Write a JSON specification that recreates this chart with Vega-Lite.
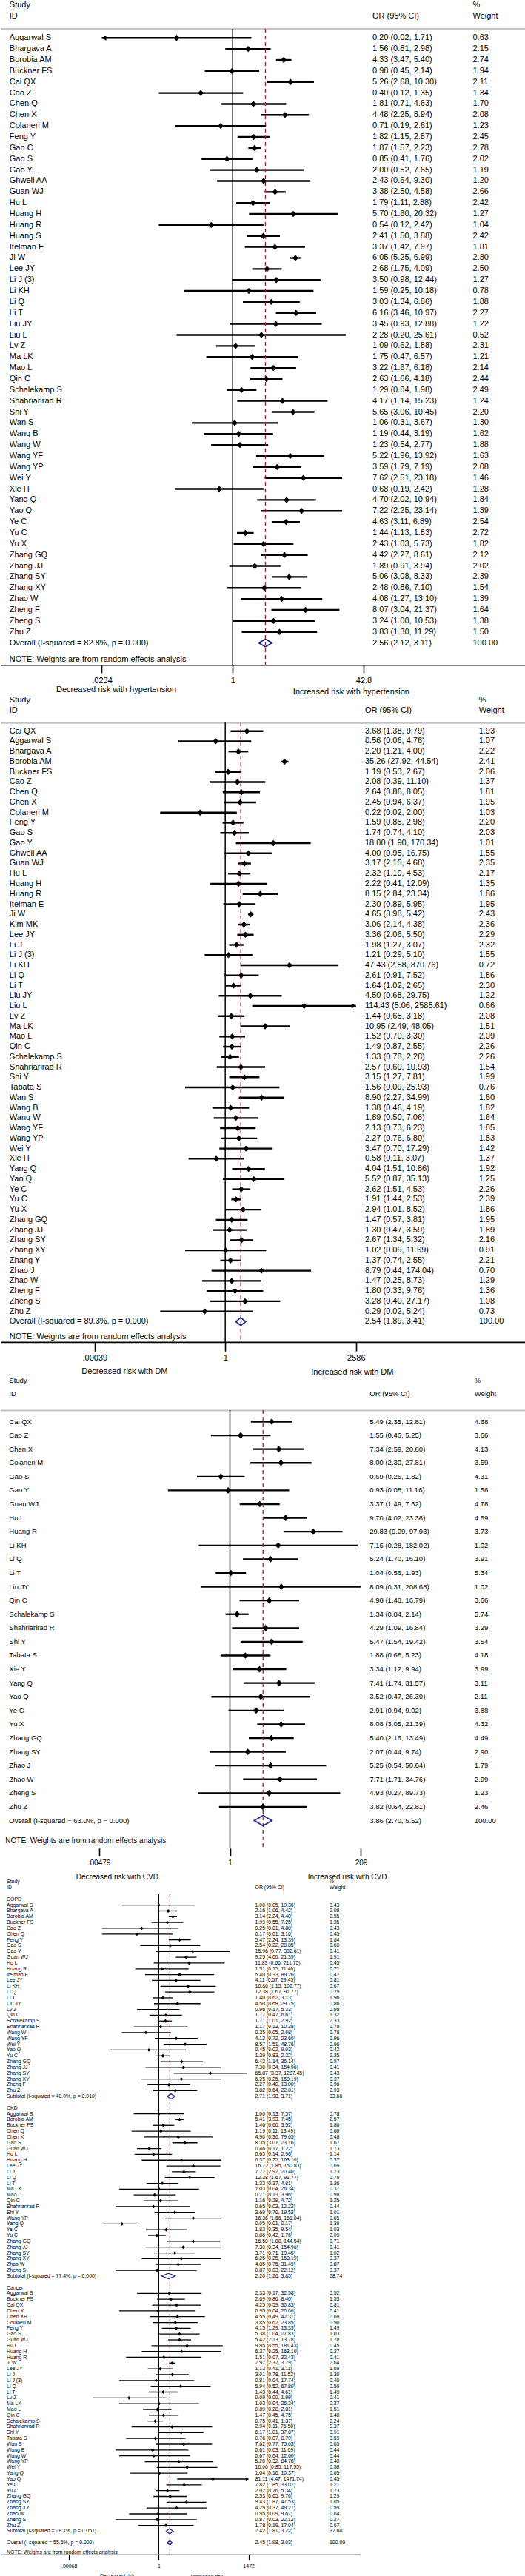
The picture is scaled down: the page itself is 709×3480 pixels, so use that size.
{
"$schema":"https://vega.github.io/schema/vega-lite/v6.json",
"padding":0,
"background":"white",
"spacing":0,
"bounds":"flush",
"config":{"view":{"stroke":null},"font":"Liberation Sans","text":{"font":"Liberation Sans","color":"black"},"axis":{"labelFont":"Liberation Sans"}},
"datasets":{
"p1":[
{"i":0,"study":"Aggarwal S","or":0.20,"lo":0.02,"hi":1.71,"w":0.63,"kind":"s"},
{"i":1,"study":"Bhargava A","or":1.56,"lo":0.81,"hi":2.98,"w":2.15,"kind":"s"},
{"i":2,"study":"Borobia AM","or":4.33,"lo":3.47,"hi":5.40,"w":2.74,"kind":"s"},
{"i":3,"study":"Buckner FS","or":0.98,"lo":0.45,"hi":2.14,"w":1.94,"kind":"s"},
{"i":4,"study":"Cai QX","or":5.26,"lo":2.68,"hi":10.30,"w":2.11,"kind":"s"},
{"i":5,"study":"Cao Z","or":0.40,"lo":0.12,"hi":1.35,"w":1.34,"kind":"s"},
{"i":6,"study":"Chen Q","or":1.81,"lo":0.71,"hi":4.63,"w":1.70,"kind":"s"},
{"i":7,"study":"Chen X","or":4.48,"lo":2.25,"hi":8.94,"w":2.08,"kind":"s"},
{"i":8,"study":"Colaneri M","or":0.71,"lo":0.19,"hi":2.61,"w":1.23,"kind":"s"},
{"i":9,"study":"Feng Y","or":1.82,"lo":1.15,"hi":2.87,"w":2.45,"kind":"s"},
{"i":10,"study":"Gao C","or":1.87,"lo":1.57,"hi":2.23,"w":2.78,"kind":"s"},
{"i":11,"study":"Gao S","or":0.85,"lo":0.41,"hi":1.76,"w":2.02,"kind":"s"},
{"i":12,"study":"Gao Y","or":2.00,"lo":0.52,"hi":7.65,"w":1.19,"kind":"s"},
{"i":13,"study":"Ghweil AA","or":2.43,"lo":0.64,"hi":9.30,"w":1.20,"kind":"s"},
{"i":14,"study":"Guan WJ","or":3.38,"lo":2.50,"hi":4.58,"w":2.66,"kind":"s"},
{"i":15,"study":"Hu L","or":1.79,"lo":1.11,"hi":2.88,"w":2.42,"kind":"s"},
{"i":16,"study":"Huang H","or":5.70,"lo":1.60,"hi":20.32,"w":1.27,"kind":"s"},
{"i":17,"study":"Huang R","or":0.54,"lo":0.12,"hi":2.42,"w":1.04,"kind":"s"},
{"i":18,"study":"Huang S","or":2.41,"lo":1.50,"hi":3.88,"w":2.42,"kind":"s"},
{"i":19,"study":"Itelman E","or":3.37,"lo":1.42,"hi":7.97,"w":1.81,"kind":"s"},
{"i":20,"study":"Ji W","or":6.05,"lo":5.25,"hi":6.99,"w":2.80,"kind":"s"},
{"i":21,"study":"Lee JY","or":2.68,"lo":1.75,"hi":4.09,"w":2.50,"kind":"s"},
{"i":22,"study":"Li J  (3)","or":3.50,"lo":0.98,"hi":12.44,"w":1.27,"kind":"s"},
{"i":23,"study":"Li KH","or":1.59,"lo":0.25,"hi":10.18,"w":0.78,"kind":"s"},
{"i":24,"study":"Li Q","or":3.03,"lo":1.34,"hi":6.86,"w":1.88,"kind":"s"},
{"i":25,"study":"Li T","or":6.16,"lo":3.46,"hi":10.97,"w":2.27,"kind":"s"},
{"i":26,"study":"Liu JY","or":3.45,"lo":0.93,"hi":12.88,"w":1.22,"kind":"s"},
{"i":27,"study":"Liu L","or":2.28,"lo":0.20,"hi":25.61,"w":0.52,"kind":"s"},
{"i":28,"study":"Lv Z","or":1.09,"lo":0.62,"hi":1.88,"w":2.31,"kind":"s"},
{"i":29,"study":"Ma LK","or":1.75,"lo":0.47,"hi":6.57,"w":1.21,"kind":"s"},
{"i":30,"study":"Mao L","or":3.22,"lo":1.67,"hi":6.18,"w":2.14,"kind":"s"},
{"i":31,"study":"Qin C","or":2.63,"lo":1.66,"hi":4.18,"w":2.44,"kind":"s"},
{"i":32,"study":"Schalekamp S","or":1.29,"lo":0.84,"hi":1.98,"w":2.49,"kind":"s"},
{"i":33,"study":"Shahriarirad R","or":4.17,"lo":1.14,"hi":15.23,"w":1.24,"kind":"s"},
{"i":34,"study":"Shi Y","or":5.65,"lo":3.06,"hi":10.45,"w":2.20,"kind":"s"},
{"i":35,"study":"Wan S","or":1.06,"lo":0.31,"hi":3.67,"w":1.30,"kind":"s"},
{"i":36,"study":"Wang B","or":1.19,"lo":0.44,"hi":3.19,"w":1.62,"kind":"s"},
{"i":37,"study":"Wang W","or":1.23,"lo":0.54,"hi":2.77,"w":1.88,"kind":"s"},
{"i":38,"study":"Wang YF","or":5.22,"lo":1.96,"hi":13.92,"w":1.63,"kind":"s"},
{"i":39,"study":"Wang YP","or":3.59,"lo":1.79,"hi":7.19,"w":2.08,"kind":"s"},
{"i":40,"study":"Wei Y","or":7.62,"lo":2.51,"hi":23.18,"w":1.46,"kind":"s"},
{"i":41,"study":"Xie H","or":0.68,"lo":0.19,"hi":2.42,"w":1.28,"kind":"s"},
{"i":42,"study":"Yang Q","or":4.70,"lo":2.02,"hi":10.94,"w":1.84,"kind":"s"},
{"i":43,"study":"Yao Q","or":7.22,"lo":2.25,"hi":23.14,"w":1.39,"kind":"s"},
{"i":44,"study":"Ye C","or":4.63,"lo":3.11,"hi":6.89,"w":2.54,"kind":"s"},
{"i":45,"study":"Yu C","or":1.44,"lo":1.13,"hi":1.83,"w":2.72,"kind":"s"},
{"i":46,"study":"Yu X","or":2.43,"lo":1.03,"hi":5.73,"w":1.82,"kind":"s"},
{"i":47,"study":"Zhang GQ","or":4.42,"lo":2.27,"hi":8.61,"w":2.12,"kind":"s"},
{"i":48,"study":"Zhang JJ","or":1.89,"lo":0.91,"hi":3.94,"w":2.02,"kind":"s"},
{"i":49,"study":"Zhang SY","or":5.06,"lo":3.08,"hi":8.33,"w":2.39,"kind":"s"},
{"i":50,"study":"Zhang XY","or":2.48,"lo":0.86,"hi":7.10,"w":1.54,"kind":"s"},
{"i":51,"study":"Zhao W","or":4.08,"lo":1.27,"hi":13.10,"w":1.39,"kind":"s"},
{"i":52,"study":"Zheng F","or":8.07,"lo":3.04,"hi":21.37,"w":1.64,"kind":"s"},
{"i":53,"study":"Zheng S","or":3.24,"lo":1.00,"hi":10.53,"w":1.38,"kind":"s"},
{"i":54,"study":"Zhu Z","or":3.83,"lo":1.30,"hi":11.29,"w":1.50,"kind":"s"},
{"i":55,"study":"Overall  (I-squared = 82.8%, p = 0.000)","or":2.56,"lo":2.12,"hi":3.11,"w":100,"kind":"overall"}
],
"p2":[
{"i":0,"study":"Cai QX","or":3.68,"lo":1.38,"hi":9.79,"w":1.93,"kind":"s"},
{"i":1,"study":"Aggarwal S","or":0.56,"lo":0.06,"hi":4.76,"w":1.07,"kind":"s"},
{"i":2,"study":"Bhargava A","or":2.20,"lo":1.21,"hi":4.00,"w":2.22,"kind":"s"},
{"i":3,"study":"Borobia AM","or":35.26,"lo":27.92,"hi":44.54,"w":2.41,"kind":"s"},
{"i":4,"study":"Buckner FS","or":1.19,"lo":0.53,"hi":2.67,"w":2.06,"kind":"s"},
{"i":5,"study":"Cao Z","or":2.08,"lo":0.39,"hi":11.10,"w":1.37,"kind":"s"},
{"i":6,"study":"Chen Q","or":2.64,"lo":0.86,"hi":8.05,"w":1.81,"kind":"s"},
{"i":7,"study":"Chen X","or":2.45,"lo":0.94,"hi":6.37,"w":1.95,"kind":"s"},
{"i":8,"study":"Colaneri M","or":0.22,"lo":0.02,"hi":2.00,"w":1.03,"kind":"s"},
{"i":9,"study":"Feng Y","or":1.59,"lo":0.85,"hi":2.98,"w":2.20,"kind":"s"},
{"i":10,"study":"Gao S","or":1.74,"lo":0.74,"hi":4.10,"w":2.03,"kind":"s"},
{"i":11,"study":"Gao Y","or":18.00,"lo":1.90,"hi":170.34,"w":1.01,"kind":"s"},
{"i":12,"study":"Ghweil AA","or":4.00,"lo":0.95,"hi":16.75,"w":1.55,"kind":"s"},
{"i":13,"study":"Guan WJ","or":3.17,"lo":2.15,"hi":4.68,"w":2.35,"kind":"s"},
{"i":14,"study":"Hu L","or":2.32,"lo":1.19,"hi":4.53,"w":2.17,"kind":"s"},
{"i":15,"study":"Huang H","or":2.22,"lo":0.41,"hi":12.09,"w":1.35,"kind":"s"},
{"i":16,"study":"Huang R","or":8.15,"lo":2.84,"hi":23.34,"w":1.86,"kind":"s"},
{"i":17,"study":"Itelman E","or":2.30,"lo":0.89,"hi":5.95,"w":1.95,"kind":"s"},
{"i":18,"study":"Ji W","or":4.65,"lo":3.98,"hi":5.42,"w":2.43,"kind":"s"},
{"i":19,"study":"Kim MK","or":3.06,"lo":2.14,"hi":4.38,"w":2.36,"kind":"s"},
{"i":20,"study":"Lee JY","or":3.36,"lo":2.06,"hi":5.50,"w":2.29,"kind":"s"},
{"i":21,"study":"Li J","or":1.98,"lo":1.27,"hi":3.07,"w":2.32,"kind":"s"},
{"i":22,"study":"Li J  (3)","or":1.21,"lo":0.29,"hi":5.10,"w":1.55,"kind":"s"},
{"i":23,"study":"Li KH","or":47.43,"lo":2.58,"hi":870.76,"w":0.72,"kind":"s"},
{"i":24,"study":"Li Q","or":2.61,"lo":0.91,"hi":7.52,"w":1.86,"kind":"s"},
{"i":25,"study":"Li T","or":1.64,"lo":1.02,"hi":2.65,"w":2.30,"kind":"s"},
{"i":26,"study":"Liu JY","or":4.50,"lo":0.68,"hi":29.75,"w":1.22,"kind":"s"},
{"i":27,"study":"Liu L","or":114.43,"lo":5.06,"hi":2585.61,"w":0.66,"kind":"s"},
{"i":28,"study":"Lv Z","or":1.44,"lo":0.65,"hi":3.18,"w":2.08,"kind":"s"},
{"i":29,"study":"Ma LK","or":10.95,"lo":2.49,"hi":48.05,"w":1.51,"kind":"s"},
{"i":30,"study":"Mao L","or":1.52,"lo":0.70,"hi":3.30,"w":2.09,"kind":"s"},
{"i":31,"study":"Qin C","or":1.49,"lo":0.87,"hi":2.55,"w":2.26,"kind":"s"},
{"i":32,"study":"Schalekamp S","or":1.33,"lo":0.78,"hi":2.28,"w":2.26,"kind":"s"},
{"i":33,"study":"Shahriarirad R","or":2.57,"lo":0.60,"hi":10.93,"w":1.54,"kind":"s"},
{"i":34,"study":"Shi Y","or":3.15,"lo":1.27,"hi":7.81,"w":1.99,"kind":"s"},
{"i":35,"study":"Tabata S","or":1.56,"lo":0.09,"hi":25.93,"w":0.76,"kind":"s"},
{"i":36,"study":"Wan S","or":8.90,"lo":2.27,"hi":34.99,"w":1.60,"kind":"s"},
{"i":37,"study":"Wang B","or":1.38,"lo":0.46,"hi":4.19,"w":1.82,"kind":"s"},
{"i":38,"study":"Wang W","or":1.89,"lo":0.50,"hi":7.06,"w":1.64,"kind":"s"},
{"i":39,"study":"Wang YF","or":2.13,"lo":0.73,"hi":6.23,"w":1.85,"kind":"s"},
{"i":40,"study":"Wang YP","or":2.27,"lo":0.76,"hi":6.80,"w":1.83,"kind":"s"},
{"i":41,"study":"Wei Y","or":3.47,"lo":0.70,"hi":17.29,"w":1.42,"kind":"s"},
{"i":42,"study":"Xie H","or":0.58,"lo":0.11,"hi":3.07,"w":1.37,"kind":"s"},
{"i":43,"study":"Yang Q","or":4.04,"lo":1.51,"hi":10.86,"w":1.92,"kind":"s"},
{"i":44,"study":"Yao Q","or":5.52,"lo":0.87,"hi":35.13,"w":1.25,"kind":"s"},
{"i":45,"study":"Ye C","or":2.62,"lo":1.51,"hi":4.53,"w":2.26,"kind":"s"},
{"i":46,"study":"Yu C","or":1.91,"lo":1.44,"hi":2.53,"w":2.39,"kind":"s"},
{"i":47,"study":"Yu X","or":2.94,"lo":1.01,"hi":8.52,"w":1.86,"kind":"s"},
{"i":48,"study":"Zhang GQ","or":1.47,"lo":0.57,"hi":3.81,"w":1.95,"kind":"s"},
{"i":49,"study":"Zhang JJ","or":1.30,"lo":0.47,"hi":3.59,"w":1.89,"kind":"s"},
{"i":50,"study":"Zhang SY","or":2.67,"lo":1.34,"hi":5.32,"w":2.16,"kind":"s"},
{"i":51,"study":"Zhang XY","or":1.02,"lo":0.09,"hi":11.69,"w":0.91,"kind":"s"},
{"i":52,"study":"Zhang Y","or":1.37,"lo":0.74,"hi":2.55,"w":2.21,"kind":"s"},
{"i":53,"study":"Zhao J","or":8.79,"lo":0.44,"hi":174.04,"w":0.70,"kind":"s"},
{"i":54,"study":"Zhao W","or":1.47,"lo":0.25,"hi":8.73,"w":1.29,"kind":"s"},
{"i":55,"study":"Zheng F","or":1.80,"lo":0.33,"hi":9.76,"w":1.36,"kind":"s"},
{"i":56,"study":"Zheng S","or":3.28,"lo":0.40,"hi":27.17,"w":1.08,"kind":"s"},
{"i":57,"study":"Zhu Z","or":0.29,"lo":0.02,"hi":5.24,"w":0.73,"kind":"s"},
{"i":58,"study":"Overall  (I-squared = 89.3%, p = 0.000)","or":2.54,"lo":1.89,"hi":3.41,"w":100,"kind":"overall"}
],
"p3":[
{"i":0,"study":"Cai QX","or":5.49,"lo":2.35,"hi":12.81,"w":4.68,"kind":"s"},
{"i":1,"study":"Cao Z","or":1.55,"lo":0.46,"hi":5.25,"w":3.66,"kind":"s"},
{"i":2,"study":"Chen X","or":7.34,"lo":2.59,"hi":20.80,"w":4.13,"kind":"s"},
{"i":3,"study":"Colaneri M","or":8.00,"lo":2.30,"hi":27.81,"w":3.59,"kind":"s"},
{"i":4,"study":"Gao S","or":0.69,"lo":0.26,"hi":1.82,"w":4.31,"kind":"s"},
{"i":5,"study":"Gao Y","or":0.93,"lo":0.08,"hi":11.16,"w":1.56,"kind":"s"},
{"i":6,"study":"Guan WJ","or":3.37,"lo":1.49,"hi":7.62,"w":4.78,"kind":"s"},
{"i":7,"study":"Hu L","or":9.70,"lo":4.02,"hi":23.38,"w":4.59,"kind":"s"},
{"i":8,"study":"Huang R","or":29.83,"lo":9.09,"hi":97.93,"w":3.73,"kind":"s"},
{"i":9,"study":"Li KH","or":7.16,"lo":0.28,"hi":182.02,"w":1.02,"kind":"s"},
{"i":10,"study":"Li Q","or":5.24,"lo":1.70,"hi":16.10,"w":3.91,"kind":"s"},
{"i":11,"study":"Li T","or":1.04,"lo":0.56,"hi":1.93,"w":5.34,"kind":"s"},
{"i":12,"study":"Liu JY","or":8.09,"lo":0.31,"hi":208.68,"w":1.02,"kind":"s"},
{"i":13,"study":"Qin C","or":4.98,"lo":1.48,"hi":16.79,"w":3.66,"kind":"s"},
{"i":14,"study":"Schalekamp S","or":1.34,"lo":0.84,"hi":2.14,"w":5.74,"kind":"s"},
{"i":15,"study":"Shahriarirad R","or":4.29,"lo":1.09,"hi":16.84,"w":3.29,"kind":"s"},
{"i":16,"study":"Shi Y","or":5.47,"lo":1.54,"hi":19.42,"w":3.54,"kind":"s"},
{"i":17,"study":"Tabata S","or":1.88,"lo":0.68,"hi":5.23,"w":4.18,"kind":"s"},
{"i":18,"study":"Xie Y","or":3.34,"lo":1.12,"hi":9.94,"w":3.99,"kind":"s"},
{"i":19,"study":"Yang Q","or":7.41,"lo":1.74,"hi":31.57,"w":3.11,"kind":"s"},
{"i":20,"study":"Yao Q","or":3.52,"lo":0.47,"hi":26.39,"w":2.11,"kind":"s"},
{"i":21,"study":"Ye C","or":2.91,"lo":0.94,"hi":9.02,"w":3.88,"kind":"s"},
{"i":22,"study":"Yu X","or":8.08,"lo":3.05,"hi":21.39,"w":4.32,"kind":"s"},
{"i":23,"study":"Zhang GQ","or":5.40,"lo":2.16,"hi":13.49,"w":4.49,"kind":"s"},
{"i":24,"study":"Zhang SY","or":2.07,"lo":0.44,"hi":9.74,"w":2.90,"kind":"s"},
{"i":25,"study":"Zhao J","or":5.25,"lo":0.54,"hi":50.64,"w":1.79,"kind":"s"},
{"i":26,"study":"Zhao W","or":7.71,"lo":1.71,"hi":34.76,"w":2.99,"kind":"s"},
{"i":27,"study":"Zheng S","or":4.93,"lo":0.27,"hi":89.73,"w":1.23,"kind":"s"},
{"i":28,"study":"Zhu Z","or":3.82,"lo":0.64,"hi":22.81,"w":2.46,"kind":"s"},
{"i":29,"study":"Overall  (I-squared = 63.0%, p = 0.000)","or":3.86,"lo":2.70,"hi":5.52,"w":100,"kind":"overall"}
],
"p4":[
{"i":0,"study":"COPD","kind":"group"},
{"i":1,"study":"Aggarwal S","or":1.00,"lo":0.05,"hi":19.36,"w":0.43,"kind":"s"},
{"i":2,"study":"Bhargava A","or":2.16,"lo":1.06,"hi":4.42,"w":2.08,"kind":"s"},
{"i":3,"study":"Borobia AM","or":3.14,"lo":2.24,"hi":4.40,"w":2.55,"kind":"s"},
{"i":4,"study":"Buckner FS","or":1.99,"lo":0.55,"hi":7.25,"w":1.35,"kind":"s"},
{"i":5,"study":"Cao Z","or":0.25,"lo":0.01,"hi":4.80,"w":0.43,"kind":"s"},
{"i":6,"study":"Chen Q","or":0.17,"lo":0.01,"hi":3.10,"w":0.45,"kind":"s"},
{"i":7,"study":"Feng Y","or":5.47,"lo":2.24,"hi":13.39,"w":1.84,"kind":"s"},
{"i":8,"study":"Gao S","or":2.54,"lo":0.22,"hi":28.85,"w":0.60,"kind":"s"},
{"i":9,"study":"Gao Y","or":15.96,"lo":0.77,"hi":332.61,"w":0.41,"kind":"s"},
{"i":10,"study":"Guan WJ","or":9.25,"lo":4.00,"hi":21.39,"w":1.91,"kind":"s"},
{"i":11,"study":"Hu L","or":11.83,"lo":0.66,"hi":211.75,"w":0.45,"kind":"s"},
{"i":12,"study":"Huang R","or":1.31,"lo":0.15,"hi":11.40,"w":0.71,"kind":"s"},
{"i":13,"study":"Itelman E","or":5.40,"lo":0.33,"hi":89.20,"w":0.47,"kind":"s"},
{"i":14,"study":"Lee JY","or":4.11,"lo":0.57,"hi":29.45,"w":0.81,"kind":"s"},
{"i":15,"study":"Li KH","or":10.86,"lo":1.15,"hi":102.77,"w":0.67,"kind":"s"},
{"i":16,"study":"Li Q","or":12.38,"lo":1.67,"hi":91.77,"w":0.79,"kind":"s"},
{"i":17,"study":"Li T","or":1.40,"lo":0.62,"hi":3.13,"w":1.96,"kind":"s"},
{"i":18,"study":"Liu JY","or":4.50,"lo":0.68,"hi":29.75,"w":0.86,"kind":"s"},
{"i":19,"study":"Lv Z","or":0.96,"lo":0.17,"hi":5.33,"w":0.98,"kind":"s"},
{"i":20,"study":"Qin C","or":1.77,"lo":0.47,"hi":6.61,"w":1.32,"kind":"s"},
{"i":21,"study":"Schalekamp S","or":1.71,"lo":1.01,"hi":2.92,"w":2.33,"kind":"s"},
{"i":22,"study":"Shahriarirad R","or":1.17,"lo":0.13,"hi":10.38,"w":0.70,"kind":"s"},
{"i":23,"study":"Wang W","or":0.35,"lo":0.05,"hi":2.68,"w":0.78,"kind":"s"},
{"i":24,"study":"Wang YF","or":4.12,"lo":0.72,"hi":23.60,"w":0.96,"kind":"s"},
{"i":25,"study":"Wei Y","or":8.57,"lo":1.51,"hi":48.76,"w":0.96,"kind":"s"},
{"i":26,"study":"Yao Q","or":0.45,"lo":0.02,"hi":9.03,"w":0.42,"kind":"s"},
{"i":27,"study":"Yu C","or":1.39,"lo":0.83,"hi":2.32,"w":2.35,"kind":"s"},
{"i":28,"study":"Zhang GQ","or":6.43,"lo":1.14,"hi":36.14,"w":0.97,"kind":"s"},
{"i":29,"study":"Zhang JJ","or":7.30,"lo":0.34,"hi":154.96,"w":0.41,"kind":"s"},
{"i":30,"study":"Zhang SY","or":65.87,"lo":3.37,"hi":1287.45,"w":0.43,"kind":"s"},
{"i":31,"study":"Zhang XY","or":6.25,"lo":0.25,"hi":158.19,"w":0.37,"kind":"s"},
{"i":32,"study":"Zheng F","or":2.27,"lo":0.40,"hi":13.00,"w":0.96,"kind":"s"},
{"i":33,"study":"Zhu Z","or":3.82,"lo":0.64,"hi":22.81,"w":0.93,"kind":"s"},
{"i":34,"study":"Subtotal  (I-squared = 40.0%, p = 0.010)","or":2.71,"lo":1.98,"hi":3.71,"w":33.66,"kind":"sub"},
{"i":36,"study":"CKD","kind":"group"},
{"i":37,"study":"Aggarwal S","or":1.00,"lo":0.13,"hi":7.57,"w":0.78,"kind":"s"},
{"i":38,"study":"Borobia AM","or":5.41,"lo":3.93,"hi":7.45,"w":2.57,"kind":"s"},
{"i":39,"study":"Buckner FS","or":1.46,"lo":0.60,"hi":3.52,"w":1.86,"kind":"s"},
{"i":40,"study":"Chen Q","or":1.19,"lo":0.11,"hi":13.49,"w":0.60,"kind":"s"},
{"i":41,"study":"Chen X","or":4.90,"lo":0.30,"hi":79.65,"w":0.48,"kind":"s"},
{"i":42,"study":"Gao S","or":8.35,"lo":3.01,"hi":23.16,"w":1.67,"kind":"s"},
{"i":43,"study":"Guan WJ","or":0.46,"lo":0.17,"hi":1.22,"w":1.73,"kind":"s"},
{"i":44,"study":"Hu L","or":0.65,"lo":0.14,"hi":2.96,"w":1.14,"kind":"s"},
{"i":45,"study":"Huang H","or":6.37,"lo":0.25,"hi":163.10,"w":0.37,"kind":"s"},
{"i":46,"study":"Lee JY","or":16.72,"lo":1.85,"hi":150.83,"w":0.69,"kind":"s"},
{"i":47,"study":"Li J","or":7.72,"lo":2.92,"hi":20.40,"w":1.73,"kind":"s"},
{"i":48,"study":"Li Q","or":12.38,"lo":1.67,"hi":91.77,"w":0.79,"kind":"s"},
{"i":49,"study":"Li T","or":1.33,"lo":0.37,"hi":4.81,"w":1.36,"kind":"s"},
{"i":50,"study":"Ma LK","or":1.03,"lo":0.04,"hi":26.34,"w":0.37,"kind":"s"},
{"i":51,"study":"Mao L","or":0.71,"lo":0.13,"hi":3.96,"w":0.98,"kind":"s"},
{"i":52,"study":"Qin C","or":1.16,"lo":0.29,"hi":4.72,"w":1.25,"kind":"s"},
{"i":53,"study":"Shahriarirad R","or":0.65,"lo":0.03,"hi":12.22,"w":0.44,"kind":"s"},
{"i":54,"study":"Shi Y","or":3.69,"lo":0.70,"hi":19.52,"w":1.01,"kind":"s"},
{"i":55,"study":"Wang YP","or":16.36,"lo":1.66,"hi":161.04,"w":0.65,"kind":"s"},
{"i":56,"study":"Yang Q","or":0.05,"lo":0.01,"hi":0.17,"w":1.39,"kind":"s"},
{"i":57,"study":"Ye C","or":1.83,"lo":0.35,"hi":9.54,"w":1.03,"kind":"s"},
{"i":58,"study":"Yu C","or":0.86,"lo":0.42,"hi":1.76,"w":2.09,"kind":"s"},
{"i":59,"study":"Zhang GQ","or":16.50,"lo":1.88,"hi":144.54,"w":0.71,"kind":"s"},
{"i":60,"study":"Zhang JJ","or":7.30,"lo":0.34,"hi":154.96,"w":0.41,"kind":"s"},
{"i":61,"study":"Zhang SY","or":3.71,"lo":0.71,"hi":19.45,"w":1.02,"kind":"s"},
{"i":62,"study":"Zhang XY","or":6.25,"lo":0.25,"hi":158.19,"w":0.37,"kind":"s"},
{"i":63,"study":"Zhao W","or":4.85,"lo":0.75,"hi":31.49,"w":0.87,"kind":"s"},
{"i":64,"study":"Zheng S","or":0.87,"lo":0.03,"hi":22.12,"w":0.37,"kind":"s"},
{"i":65,"study":"Subtotal  (I-squared = 77.4%, p = 0.000)","or":2.20,"lo":1.26,"hi":3.85,"w":28.74,"kind":"sub"},
{"i":67,"study":"Cancer","kind":"group"},
{"i":68,"study":"Aggarwal S","or":2.33,"lo":0.17,"hi":32.58,"w":0.52,"kind":"s"},
{"i":69,"study":"Buckner FS","or":2.69,"lo":0.86,"hi":8.40,"w":1.53,"kind":"s"},
{"i":70,"study":"Cai QX","or":4.25,"lo":0.59,"hi":30.83,"w":0.81,"kind":"s"},
{"i":71,"study":"Chen X","or":0.95,"lo":0.04,"hi":20.06,"w":0.41,"kind":"s"},
{"i":72,"study":"Chen XH","or":4.55,"lo":0.49,"hi":42.31,"w":0.68,"kind":"s"},
{"i":73,"study":"Colaneri M","or":3.85,"lo":0.62,"hi":23.85,"w":0.90,"kind":"s"},
{"i":74,"study":"Feng Y","or":4.15,"lo":1.29,"hi":13.33,"w":1.49,"kind":"s"},
{"i":75,"study":"Gao S","or":5.38,"lo":1.04,"hi":27.83,"w":1.03,"kind":"s"},
{"i":76,"study":"Guan WJ","or":5.42,"lo":2.13,"hi":13.78,"w":1.78,"kind":"s"},
{"i":77,"study":"Hu L","or":9.95,"lo":0.55,"hi":181.43,"w":0.45,"kind":"s"},
{"i":78,"study":"Huang H","or":6.37,"lo":0.25,"hi":163.10,"w":0.37,"kind":"s"},
{"i":79,"study":"Huang R","or":1.51,"lo":0.07,"hi":32.43,"w":0.41,"kind":"s"},
{"i":80,"study":"Ji W","or":2.97,"lo":2.32,"hi":3.79,"w":2.64,"kind":"s"},
{"i":81,"study":"Lee JY","or":1.13,"lo":0.41,"hi":3.11,"w":1.69,"kind":"s"},
{"i":82,"study":"Li J","or":3.01,"lo":0.78,"hi":11.52,"w":1.30,"kind":"s"},
{"i":83,"study":"Li J   (3)","or":0.81,"lo":0.04,"hi":17.74,"w":0.40,"kind":"s"},
{"i":84,"study":"Li Q","or":5.94,"lo":0.52,"hi":67.80,"w":0.59,"kind":"s"},
{"i":85,"study":"Li T","or":1.43,"lo":0.44,"hi":4.61,"w":1.49,"kind":"s"},
{"i":86,"study":"Lv Z","or":0.09,"lo":0.0047,"hi":1.99,"w":0.41,"kind":"s"},
{"i":87,"study":"Ma LK","or":1.03,"lo":0.04,"hi":26.34,"w":0.37,"kind":"s"},
{"i":88,"study":"Mao L","or":0.89,"lo":0.28,"hi":2.81,"w":1.51,"kind":"s"},
{"i":89,"study":"Qin C","or":1.47,"lo":0.45,"hi":4.75,"w":1.48,"kind":"s"},
{"i":90,"study":"Schalekamp S","or":0.75,"lo":0.41,"hi":1.37,"w":2.24,"kind":"s"},
{"i":91,"study":"Shahriarirad R","or":2.94,"lo":0.11,"hi":76.50,"w":0.37,"kind":"s"},
{"i":92,"study":"Shi Y","or":6.17,"lo":1.01,"hi":37.87,"w":0.91,"kind":"s"},
{"i":93,"study":"Tabata S","or":0.76,"lo":0.07,"hi":8.79,"w":0.59,"kind":"s"},
{"i":94,"study":"Wan S","or":7.62,"lo":0.77,"hi":75.63,"w":0.65,"kind":"s"},
{"i":95,"study":"Wang B","or":0.61,"lo":0.03,"hi":11.09,"w":0.44,"kind":"s"},
{"i":96,"study":"Wang W","or":0.67,"lo":0.04,"hi":12.60,"w":0.44,"kind":"s"},
{"i":97,"study":"Wang YP","or":5.20,"lo":0.32,"hi":84.78,"w":0.48,"kind":"s"},
{"i":98,"study":"Wei Y","or":10.00,"lo":0.85,"hi":117.55,"w":0.58,"kind":"s"},
{"i":99,"study":"Yang Q","or":1.04,"lo":0.10,"hi":10.37,"w":0.65,"kind":"s"},
{"i":100,"study":"Yao Q","or":81.11,"lo":4.47,"hi":1471.74,"w":0.45,"kind":"s"},
{"i":101,"study":"Ye C","or":7.82,"lo":1.85,"hi":33.07,"w":1.21,"kind":"s"},
{"i":102,"study":"Yu C","or":2.02,"lo":0.76,"hi":5.34,"w":1.73,"kind":"s"},
{"i":103,"study":"Zhang GQ","or":2.53,"lo":0.65,"hi":9.76,"w":1.29,"kind":"s"},
{"i":104,"study":"Zhang SY","or":9.43,"lo":1.87,"hi":47.53,"w":1.05,"kind":"s"},
{"i":105,"study":"Zhang XY","or":4.29,"lo":0.37,"hi":49.27,"w":0.59,"kind":"s"},
{"i":106,"study":"Zhao W","or":0.95,"lo":0.09,"hi":9.67,"w":0.64,"kind":"s"},
{"i":107,"study":"Zheng S","or":0.87,"lo":0.03,"hi":22.12,"w":0.37,"kind":"s"},
{"i":108,"study":"Zhu Z","or":1.78,"lo":0.19,"hi":17.04,"w":0.67,"kind":"s"},
{"i":109,"study":"Subtotal  (I-squared = 28.1%, p = 0.051)","or":2.42,"lo":1.81,"hi":3.22,"w":37.60,"kind":"sub"},
{"i":111,"study":"Overall  (I-squared = 55.6%, p = 0.000)","or":2.45,"lo":1.98,"hi":3.03,"w":100,"kind":"overall"}
]
},
"vconcat":[
{
"width":709,"height":896.3,
"data":{"name":"p1"},
"encoding":{"y":{"field":"i","type":"quantitative","scale":{"domain":[-3.318,57],"nice":false,"zero":false,"reverse":true},"axis":null}},
"layer":[
{"transform":[{"filter":"datum.kind=='overall'"}],"mark":{"type":"rule","color":"#c4c4c4","strokeWidth":2},"encoding":{"y":{"datum":-0.83,"axis":null}}},
{"transform":[{"filter":"datum.kind=='s'"},{"calculate":"max(datum.lo,0.0234)","as":"lo_c"}],"mark":{"type":"rule","color":"black","strokeWidth":2.4},"encoding":{"x":{"field":"lo_c","type":"quantitative","scale":{"type":"log","domain":[0.0012872,4494.4],"nice":false},"axis":{"values":[0.0234,1,42.8],"labelExpr":"datum.value < 1 ? slice(toString(datum.value), 1) : toString(datum.value)","title":null,"grid":false,"domain":true,"domainColor":"black","domainWidth":1.6,"ticks":true,"tickColor":"black","tickWidth":1.6,"tickSize":10.5,"labelFontSize":11,"labelColor":"black","labelPadding":4.5,"labelFlush":false,"labelOverlap":false}},"x2":{"field":"hi"}}},
{"transform":[{"filter":"datum.kind=='overall'"}],"mark":{"type":"rule","color":"black","strokeWidth":1.5},"encoding":{"x":{"datum":1},"y":{"datum":-0.83,"axis":null},"y2":{"datum":57}}},
{"transform":[{"filter":"datum.kind=='overall'"}],"mark":{"type":"rule","color":"#b2182b","strokeWidth":1.3,"strokeDash":[5,4]},"encoding":{"x":{"field":"or","type":"quantitative"},"y":{"datum":-0.83,"axis":null},"y2":{"datum":57}}},
{"transform":[{"filter":"datum.lo < 0.0234"}],"mark":{"type":"point","shape":"triangle-left","filled":true,"color":"black","opacity":1,"size":50,"xOffset":3},"encoding":{"x":{"datum":0.0234}}},
{"transform":[{"filter":"datum.kind=='s'"}],"mark":{"type":"point","shape":"M0,-1.08L1,0L0,1.08L-1,0Z","filled":true,"color":"black","opacity":1,"size":60},"encoding":{"x":{"field":"or","type":"quantitative"}}},
{"transform":[{"filter":"datum.kind=='overall'"}],"mark":{"type":"point","shape":"M-1,0L0,-0.57L1,0L0,0.57Z","filled":false,"color":"#1f2d86","strokeWidth":1.8,"opacity":1,"size":324},"encoding":{"x":{"field":"or","type":"quantitative"}}},
{"mark":{"type":"text","align":"left","baseline":"middle","fontSize":11},"encoding":{"x":{"datum":0.0016538},"text":{"field":"study"}}},
{"transform":[{"filter":"datum.kind!='group'"},{"calculate":"format(datum.or,'.2f')+' ('+format(datum.lo,'.2f')+', '+format(datum.hi,'.2f')+')'","as":"ci"}],"mark":{"type":"text","align":"left","baseline":"middle","fontSize":11},"encoding":{"x":{"datum":55.25},"text":{"field":"ci"}}},
{"transform":[{"filter":"datum.kind!='group'"},{"calculate":"format(datum.w,'.2f')","as":"wt"}],"mark":{"type":"text","align":"left","baseline":"middle","fontSize":11},"encoding":{"x":{"datum":983.6},"text":{"field":"wt"}}},
{"transform":[{"filter":"datum.kind=='overall'"}],"mark":{"type":"text","text":"Study","align":"left","baseline":"middle","fontSize":11},"encoding":{"x":{"datum":0.0016538},"y":{"datum":-3,"axis":null}}},
{"transform":[{"filter":"datum.kind=='overall'"}],"mark":{"type":"text","text":"ID","align":"left","baseline":"middle","fontSize":11},"encoding":{"x":{"datum":0.0016538},"y":{"datum":-2,"axis":null}}},
{"transform":[{"filter":"datum.kind=='overall'"}],"mark":{"type":"text","text":"OR (95% CI)","align":"left","baseline":"middle","fontSize":11},"encoding":{"x":{"datum":55.25},"y":{"datum":-2,"axis":null}}},
{"transform":[{"filter":"datum.kind=='overall'"}],"mark":{"type":"text","text":"%","align":"left","baseline":"middle","fontSize":11},"encoding":{"x":{"datum":983.6},"y":{"datum":-3,"axis":null}}},
{"transform":[{"filter":"datum.kind=='overall'"}],"mark":{"type":"text","text":"Weight","align":"left","baseline":"middle","fontSize":11},"encoding":{"x":{"datum":983.6},"y":{"datum":-2,"axis":null}}},
{"transform":[{"filter":"datum.kind=='overall'"}],"mark":{"type":"text","text":"NOTE: Weights are from random effects analysis","align":"left","baseline":"middle","fontSize":11},"encoding":{"x":{"datum":0.0016538},"y":{"datum":56.5,"axis":null}}},
{"transform":[{"filter":"datum.kind=='overall'"}],"mark":{"type":"text","text":"Decreased risk with hypertension","align":"center","baseline":"middle","fontSize":11},"encoding":{"x":{"datum":0.03544},"y":{"datum":59.27,"axis":null}}},
{"transform":[{"filter":"datum.kind=='overall'"}],"mark":{"type":"text","text":"Increased risk with hypertension","align":"center","baseline":"middle","fontSize":11},"encoding":{"x":{"datum":30.09},"y":{"datum":59.45,"axis":null}}}
]
},
{
"width":709,"height":913.9,
"data":{"name":"p2"},
"encoding":{"y":{"field":"i","type":"quantitative","scale":{"domain":[-6.4495,60],"nice":false,"zero":false,"reverse":true},"axis":null}},
"layer":[
{"transform":[{"filter":"datum.kind=='overall'"}],"mark":{"type":"rule","color":"#c4c4c4","strokeWidth":2},"encoding":{"y":{"datum":-0.8,"axis":null}}},
{"transform":[{"filter":"datum.kind=='s'"}],"mark":{"type":"rule","color":"black","strokeWidth":2.4},"encoding":{"x":{"field":"lo","type":"quantitative","scale":{"type":"log","domain":[1.3799e-6,6.970e7],"nice":false},"axis":{"values":[0.00039,1,2586],"labelExpr":"datum.value < 1 ? slice(toString(datum.value), 1) : toString(datum.value)","title":null,"grid":false,"domain":true,"domainColor":"black","domainWidth":1.6,"ticks":true,"tickColor":"black","tickWidth":1.6,"tickSize":12.3,"labelFontSize":11,"labelColor":"black","labelPadding":3.7,"labelFlush":false,"labelOverlap":false}},"x2":{"field":"hi"}}},
{"transform":[{"filter":"datum.kind=='overall'"}],"mark":{"type":"rule","color":"black","strokeWidth":1.5},"encoding":{"x":{"datum":1},"y":{"datum":-0.83,"axis":null},"y2":{"datum":60}}},
{"transform":[{"filter":"datum.kind=='overall'"}],"mark":{"type":"rule","color":"#b2182b","strokeWidth":1.3,"strokeDash":[5,4]},"encoding":{"x":{"field":"or","type":"quantitative"},"y":{"datum":-0.83,"axis":null},"y2":{"datum":60}}},
{"transform":[{"filter":"datum.hi > 2585"}],"mark":{"type":"point","shape":"triangle-right","filled":true,"color":"black","opacity":1,"size":50,"xOffset":-3},"encoding":{"x":{"field":"hi","type":"quantitative"}}},
{"transform":[{"filter":"datum.kind=='s'"}],"mark":{"type":"point","shape":"M0,-1.08L1,0L0,1.08L-1,0Z","filled":true,"color":"black","opacity":1,"size":60},"encoding":{"x":{"field":"or","type":"quantitative"}}},
{"transform":[{"filter":"datum.kind=='overall'"}],"mark":{"type":"point","shape":"M-1,0L0,-0.8L1,0L0,0.8Z","filled":false,"color":"#1f2d86","strokeWidth":1.8,"opacity":1,"size":177},"encoding":{"x":{"field":"or","type":"quantitative"}}},
{"mark":{"type":"text","align":"left","baseline":"middle","fontSize":11},"encoding":{"x":{"datum":2.334e-6},"text":{"field":"study"}}},
{"transform":[{"filter":"datum.kind!='group'"},{"calculate":"format(datum.or,'.2f')+' ('+format(datum.lo,'.2f')+', '+format(datum.hi,'.2f')+')'","as":"ci"}],"mark":{"type":"text","align":"left","baseline":"middle","fontSize":11},"encoding":{"x":{"datum":4457},"text":{"field":"ci"}}},
{"transform":[{"filter":"datum.kind!='group'"},{"calculate":"format(datum.w,'.2f')","as":"wt"}],"mark":{"type":"text","align":"left","baseline":"middle","fontSize":11},"encoding":{"x":{"datum":4.166e6},"text":{"field":"wt"}}},
{"transform":[{"filter":"datum.kind=='overall'"}],"mark":{"type":"text","text":"Study","align":"left","baseline":"middle","fontSize":11},"encoding":{"x":{"datum":2.334e-6},"y":{"datum":-3,"axis":null}}},
{"transform":[{"filter":"datum.kind=='overall'"}],"mark":{"type":"text","text":"ID","align":"left","baseline":"middle","fontSize":11},"encoding":{"x":{"datum":2.334e-6},"y":{"datum":-2,"axis":null}}},
{"transform":[{"filter":"datum.kind=='overall'"}],"mark":{"type":"text","text":"OR (95% CI)","align":"left","baseline":"middle","fontSize":11},"encoding":{"x":{"datum":4457},"y":{"datum":-2,"axis":null}}},
{"transform":[{"filter":"datum.kind=='overall'"}],"mark":{"type":"text","text":"%","align":"left","baseline":"middle","fontSize":11},"encoding":{"x":{"datum":4.166e6},"y":{"datum":-3,"axis":null}}},
{"transform":[{"filter":"datum.kind=='overall'"}],"mark":{"type":"text","text":"Weight","align":"left","baseline":"middle","fontSize":11},"encoding":{"x":{"datum":4.166e6},"y":{"datum":-2,"axis":null}}},
{"transform":[{"filter":"datum.kind=='overall'"}],"mark":{"type":"text","text":"NOTE: Weights are from random effects analysis","align":"left","baseline":"middle","fontSize":11},"encoding":{"x":{"datum":2.334e-6},"y":{"datum":59.5,"axis":null}}},
{"transform":[{"filter":"datum.kind=='overall'"}],"mark":{"type":"text","text":"Decreased risk with DM","align":"center","baseline":"middle","fontSize":11},"encoding":{"x":{"datum":0.002363},"y":{"datum":62.95,"axis":null}}},
{"transform":[{"filter":"datum.kind=='overall'"}],"mark":{"type":"text","text":"Increased risk with DM","align":"center","baseline":"middle","fontSize":11},"encoding":{"x":{"datum":2076},"y":{"datum":63.02,"axis":null}}}
]
},
{
"width":709,"height":683.7,
"data":{"name":"p3"},
"encoding":{"y":{"field":"i","type":"quantitative","scale":{"domain":[-5.784,31],"nice":false,"zero":false,"reverse":true},"axis":null}},
"layer":[
{"transform":[{"filter":"datum.kind=='overall'"}],"mark":{"type":"rule","color":"#c4c4c4","strokeWidth":2},"encoding":{"y":{"datum":-0.81,"axis":null}}},
{"transform":[{"filter":"datum.kind=='s'"}],"mark":{"type":"rule","color":"black","strokeWidth":2.3},"encoding":{"x":{"field":"lo","type":"quantitative","scale":{"type":"log","domain":[8.766e-5,172577],"nice":false},"axis":{"values":[0.00479,1,209],"labelExpr":"datum.value < 1 ? slice(toString(datum.value), 1) : toString(datum.value)","title":null,"grid":false,"domain":false,"ticks":true,"tickColor":"black","tickWidth":1.6,"tickSize":10.5,"labelFontSize":10,"labelColor":"black","labelPadding":4,"labelFlush":false,"labelOverlap":false}},"x2":{"field":"hi"}}},
{"transform":[{"filter":"datum.kind=='overall'"}],"mark":{"type":"rule","color":"black","strokeWidth":1.5},"encoding":{"x":{"datum":1},"y":{"datum":-0.83,"axis":null},"y2":{"datum":31}}},
{"transform":[{"filter":"datum.kind=='overall'"}],"mark":{"type":"rule","color":"#b2182b","strokeWidth":1.3,"strokeDash":[5,4]},"encoding":{"x":{"field":"or","type":"quantitative"},"y":{"datum":-0.83,"axis":null},"y2":{"datum":31}}},
{"transform":[{"filter":"datum.kind=='s'"}],"mark":{"type":"point","shape":"M0,-1.08L1,0L0,1.08L-1,0Z","filled":true,"color":"black","opacity":1,"size":64},"encoding":{"x":{"field":"or","type":"quantitative"}}},
{"transform":[{"filter":"datum.kind=='overall'"}],"mark":{"type":"point","shape":"M-1,0L0,-0.59L1,0L0,0.59Z","filled":false,"color":"#1f2d86","strokeWidth":1.8,"opacity":1,"size":562},"encoding":{"x":{"field":"or","type":"quantitative"}}},
{"mark":{"type":"text","align":"left","baseline":"middle","fontSize":9.5},"encoding":{"x":{"datum":1.234e-4},"text":{"field":"study"}}},
{"transform":[{"filter":"datum.kind!='group'"},{"calculate":"format(datum.or,'.2f')+' ('+format(datum.lo,'.2f')+', '+format(datum.hi,'.2f')+')'","as":"ci"}],"mark":{"type":"text","align":"left","baseline":"middle","fontSize":9.5},"encoding":{"x":{"datum":298.5},"text":{"field":"ci"}}},
{"transform":[{"filter":"datum.kind!='group'"},{"calculate":"format(datum.w,'.2f')","as":"wt"}],"mark":{"type":"text","align":"left","baseline":"middle","fontSize":9.5},"encoding":{"x":{"datum":21372},"text":{"field":"wt"}}},
{"transform":[{"filter":"datum.kind=='overall'"}],"mark":{"type":"text","text":"Study","align":"left","baseline":"middle","fontSize":9.5},"encoding":{"x":{"datum":1.234e-4},"y":{"datum":-3,"axis":null}}},
{"transform":[{"filter":"datum.kind=='overall'"}],"mark":{"type":"text","text":"ID","align":"left","baseline":"middle","fontSize":9.5},"encoding":{"x":{"datum":1.234e-4},"y":{"datum":-2,"axis":null}}},
{"transform":[{"filter":"datum.kind=='overall'"}],"mark":{"type":"text","text":"OR (95% CI)","align":"left","baseline":"middle","fontSize":9.5},"encoding":{"x":{"datum":298.5},"y":{"datum":-2,"axis":null}}},
{"transform":[{"filter":"datum.kind=='overall'"}],"mark":{"type":"text","text":"%","align":"left","baseline":"middle","fontSize":9.5},"encoding":{"x":{"datum":21372},"y":{"datum":-3,"axis":null}}},
{"transform":[{"filter":"datum.kind=='overall'"}],"mark":{"type":"text","text":"Weight","align":"left","baseline":"middle","fontSize":9.5},"encoding":{"x":{"datum":21372},"y":{"datum":-2,"axis":null}}},
{"transform":[{"filter":"datum.kind=='overall'"}],"mark":{"type":"text","text":"NOTE: Weights are from random effects analysis","align":"left","baseline":"middle","fontSize":10},"encoding":{"x":{"datum":1.0603e-4},"y":{"datum":30.5,"axis":null}}},
{"transform":[{"filter":"datum.kind=='overall'"}],"mark":{"type":"text","text":"Decreased risk with CVD","align":"center","baseline":"middle","fontSize":10},"encoding":{"x":{"datum":0.01014},"y":{"datum":33.09,"axis":null}}},
{"transform":[{"filter":"datum.kind=='overall'"}],"mark":{"type":"text","text":"Increased risk with CVD","align":"center","baseline":"middle","fontSize":10},"encoding":{"x":{"datum":119.6},"y":{"datum":33.09,"axis":null}}}
]
},
{
"width":486,"height":953.8,
"data":{"name":"p4"},
"encoding":{"y":{"field":"i","type":"quantitative","scale":{"domain":[-8.7845,113],"nice":false,"zero":false,"reverse":true},"axis":null}},
"layer":[
{"transform":[{"filter":"datum.kind=='s'"}],"mark":{"type":"rule","color":"black","strokeWidth":1.3},"encoding":{"x":{"field":"lo","type":"quantitative","scale":{"type":"log","domain":[2.6529e-6,1.3282e7],"nice":false},"axis":{"values":[0.00068,1,1472],"labelExpr":"datum.value < 1 ? slice(toString(datum.value), 1) : toString(datum.value)","title":null,"grid":false,"domain":true,"domainColor":"black","domainWidth":1.2,"ticks":true,"tickColor":"black","tickWidth":1.2,"tickSize":7.5,"labelFontSize":7,"labelColor":"black","labelPadding":4,"labelFlush":false,"labelOverlap":false}},"x2":{"field":"hi"}}},
{"transform":[{"filter":"datum.kind=='overall'"}],"mark":{"type":"rule","color":"black","strokeWidth":1.2},"encoding":{"x":{"datum":1},"y":{"datum":-0.86,"axis":null},"y2":{"datum":113}}},
{"transform":[{"filter":"datum.kind=='overall'"}],"mark":{"type":"rule","color":"#b2182b","strokeWidth":1,"strokeDash":[4,3]},"encoding":{"x":{"field":"or","type":"quantitative"},"y":{"datum":-0.86,"axis":null},"y2":{"datum":113}}},
{"transform":[{"filter":"datum.hi > 1471"}],"mark":{"type":"point","shape":"triangle-right","filled":true,"color":"black","opacity":1,"size":18,"xOffset":-2},"encoding":{"x":{"field":"hi","type":"quantitative"}}},
{"transform":[{"filter":"datum.kind=='s'"}],"mark":{"type":"point","shape":"M0,-1.08L1,0L0,1.08L-1,0Z","filled":true,"color":"black","opacity":1,"size":20},"encoding":{"x":{"field":"or","type":"quantitative"}}},
{"transform":[{"filter":"datum.i==34"}],"mark":{"type":"point","shape":"M-1,0L0,-0.67L1,0L0,0.67Z","filled":false,"color":"#1f2d86","strokeWidth":1.3,"opacity":1,"size":108},"encoding":{"x":{"field":"or","type":"quantitative"}}},
{"transform":[{"filter":"datum.i==65"}],"mark":{"type":"point","shape":"M-1,0L0,-0.4L1,0L0,0.4Z","filled":false,"color":"#1f2d86","strokeWidth":1.3,"opacity":1,"size":346},"encoding":{"x":{"field":"or","type":"quantitative"}}},
{"transform":[{"filter":"datum.i==109"}],"mark":{"type":"point","shape":"M-1,0L0,-0.74L1,0L0,0.74Z","filled":false,"color":"#1f2d86","strokeWidth":1.3,"opacity":1,"size":90},"encoding":{"x":{"field":"or","type":"quantitative"}}},
{"transform":[{"filter":"datum.i==111"}],"mark":{"type":"point","shape":"M-1,0L0,-0.77L1,0L0,0.77Z","filled":false,"color":"#1f2d86","strokeWidth":1.3,"opacity":1,"size":49},"encoding":{"x":{"field":"or","type":"quantitative"}}},
{"mark":{"type":"text","align":"left","baseline":"middle","fontSize":6.9},"encoding":{"x":{"datum":4.319e-6},"text":{"field":"study"}}},
{"transform":[{"filter":"datum.kind!='group'"},{"calculate":"format(datum.or,'.2f')+' ('+format(datum.lo,'.2f')+', '+format(datum.hi,'.2f')+')'","as":"ci"}],"mark":{"type":"text","align":"left","baseline":"middle","fontSize":6.9},"encoding":{"x":{"datum":2524.9},"text":{"field":"ci"}}},
{"transform":[{"filter":"datum.kind!='group'"},{"calculate":"format(datum.w,'.2f')","as":"wt"}],"mark":{"type":"text","align":"left","baseline":"middle","fontSize":6.9},"encoding":{"x":{"datum":1.0613e6},"text":{"field":"wt"}}},
{"transform":[{"filter":"datum.kind=='overall'"}],"mark":{"type":"text","text":"Study","align":"left","baseline":"middle","fontSize":6.9},"encoding":{"x":{"datum":4.319e-6},"y":{"datum":-3,"axis":null}}},
{"transform":[{"filter":"datum.kind=='overall'"}],"mark":{"type":"text","text":"ID","align":"left","baseline":"middle","fontSize":6.9},"encoding":{"x":{"datum":4.319e-6},"y":{"datum":-2,"axis":null}}},
{"transform":[{"filter":"datum.kind=='overall'"}],"mark":{"type":"text","text":"OR (95% CI)","align":"left","baseline":"middle","fontSize":6.9},"encoding":{"x":{"datum":2524.9},"y":{"datum":-2,"axis":null}}},
{"transform":[{"filter":"datum.kind=='overall'"}],"mark":{"type":"text","text":"%","align":"left","baseline":"middle","fontSize":6.9},"encoding":{"x":{"datum":1.0613e6},"y":{"datum":-3,"axis":null}}},
{"transform":[{"filter":"datum.kind=='overall'"}],"mark":{"type":"text","text":"Weight","align":"left","baseline":"middle","fontSize":6.9},"encoding":{"x":{"datum":1.0613e6},"y":{"datum":-2,"axis":null}}},
{"transform":[{"filter":"datum.kind=='overall'"}],"mark":{"type":"text","text":"NOTE: Weights are from random effects analysis","align":"left","baseline":"middle","fontSize":6.9},"encoding":{"x":{"datum":4.319e-6},"y":{"datum":112.6,"axis":null}}},
{"transform":[{"filter":"datum.kind=='overall'"}],"mark":{"type":"text","text":"Decreased risk","align":"center","baseline":"middle","fontSize":7},"encoding":{"x":{"datum":0.03441},"y":{"datum":116.78,"axis":null}}},
{"transform":[{"filter":"datum.kind=='overall'"}],"mark":{"type":"text","text":"Increased risk","align":"center","baseline":"middle","fontSize":7},"encoding":{"x":{"datum":50.2},"y":{"datum":116.9,"axis":null}}}
]
}
]
}
